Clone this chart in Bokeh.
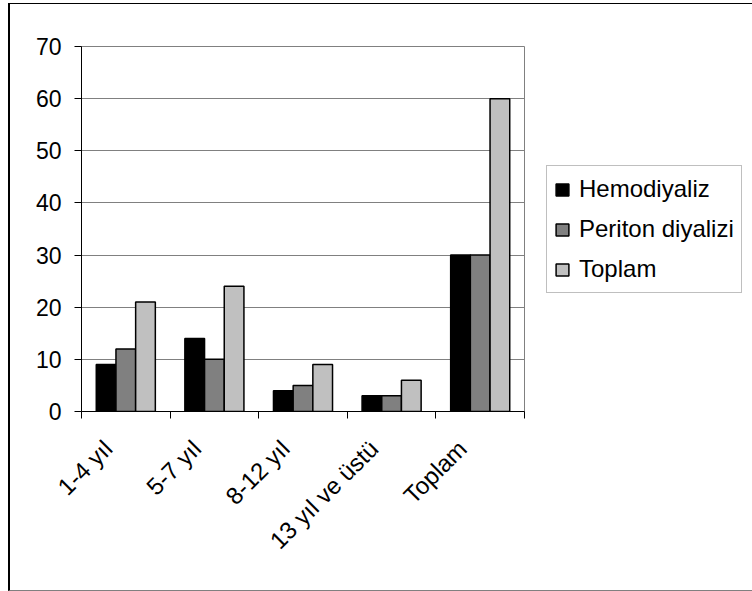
import numpy as np
from math import pi
from bokeh.plotting import figure
from bokeh.models import Range1d, FixedTicker, Legend, LegendItem, ColumnDataSource, InlineStyleSheet
from bokeh.embed import file_html
from bokeh.resources import INLINE

categories = ["1-4 yıl", "5-7 yıl", "8-12 yıl", "13 yıl ve üstü", "Toplam"]
series_names = ["Hemodiyaliz", "Periton diyalizi", "Toplam"]
hemodiyaliz = [9, 14, 4, 3, 30]
periton = [12, 10, 5, 3, 30]
toplam = [21, 24, 9, 6, 60]
y_ticks = [0, 10, 20, 30, 40, 50, 60, 70]

colors = ["#000000", "#808080", "#C0C0C0"]
FONT = "Liberation Sans"

p = figure(width=752, height=591, output_backend="svg", toolbar_location=None,
           x_range=Range1d(0, len(categories)), y_range=Range1d(0, 70),
           min_border_left=81, min_border_right=228, min_border_top=46,
           min_border_bottom=180)
p.frame_width = 443
p.frame_height = 365

centers = np.arange(len(categories)) + 0.5
w = 1 / 4.5
renderers = []
for k, vals in enumerate([hemodiyaliz, periton, toplam]):
    src = ColumnDataSource(dict(x=centers + (k - 1) * w, top=vals))
    r = p.vbar(x="x", top="top", width=w, bottom=0, source=src,
               fill_color=colors[k], line_color="black", line_width=1.5)
    renderers.append(r)

# axes: invisible major ticks carry the labels, minor ticks mark category bounds
label_pos = list(centers - 0.2)
p.xaxis.ticker = FixedTicker(ticks=label_pos, minor_ticks=list(range(len(categories) + 1)))
p.xaxis.major_label_overrides = {float(c): lab for c, lab in zip(label_pos, categories)}
p.xaxis.major_label_orientation = pi / 4
p.xaxis.major_tick_out = 0
p.xaxis.major_tick_in = 0
p.xaxis.minor_tick_out = 7
p.xaxis.minor_tick_in = 0
p.xaxis.minor_tick_line_color = "black"
p.xaxis.axis_line_color = "black"
p.xaxis.major_label_text_font = FONT
p.xaxis.major_label_text_font_size = "24px"
p.xaxis.major_label_text_color = "black"
p.xaxis.major_label_standoff = 26

p.yaxis.ticker = FixedTicker(ticks=y_ticks)
p.yaxis.major_tick_out = 7
p.yaxis.major_tick_in = 0
p.yaxis.minor_tick_line_color = None
p.yaxis.axis_line_color = "black"
p.yaxis.major_tick_line_color = "black"
p.yaxis.major_label_text_font = FONT
p.yaxis.major_label_text_font_size = "23px"
p.yaxis.major_label_text_color = "black"
p.yaxis.major_label_standoff = 13

p.xgrid.grid_line_color = None
p.ygrid.grid_line_color = "#808080"
p.ygrid.grid_line_width = 1
p.outline_line_color = "#808080"
p.outline_line_width = 1

leg = Legend(items=[LegendItem(label=n, renderers=[r]) for n, r in zip(series_names, renderers)],
             location=(22, 118))
leg.label_text_font = FONT
leg.label_text_font_size = "24px"
leg.label_text_color = "black"
leg.label_height = 32
leg.glyph_height = 15
leg.glyph_width = 16
leg.spacing = 8
leg.padding = 7
leg.margin = 0
leg.label_standoff = 9
leg.border_line_color = "#808080"
leg.border_line_width = 1
p.add_layout(leg, "right")

p.stylesheets = [InlineStyleSheet(css="""
:host::after {
  content: ""; position: absolute; left: 8px; top: 3px; right: -60px; bottom: 0px;
  border-left: 2px solid #000; border-top: 1px solid #000; border-bottom: 1px solid #808080;
  pointer-events: none;
}
""")]

open("out.html", "w").write(file_html(p, INLINE))
